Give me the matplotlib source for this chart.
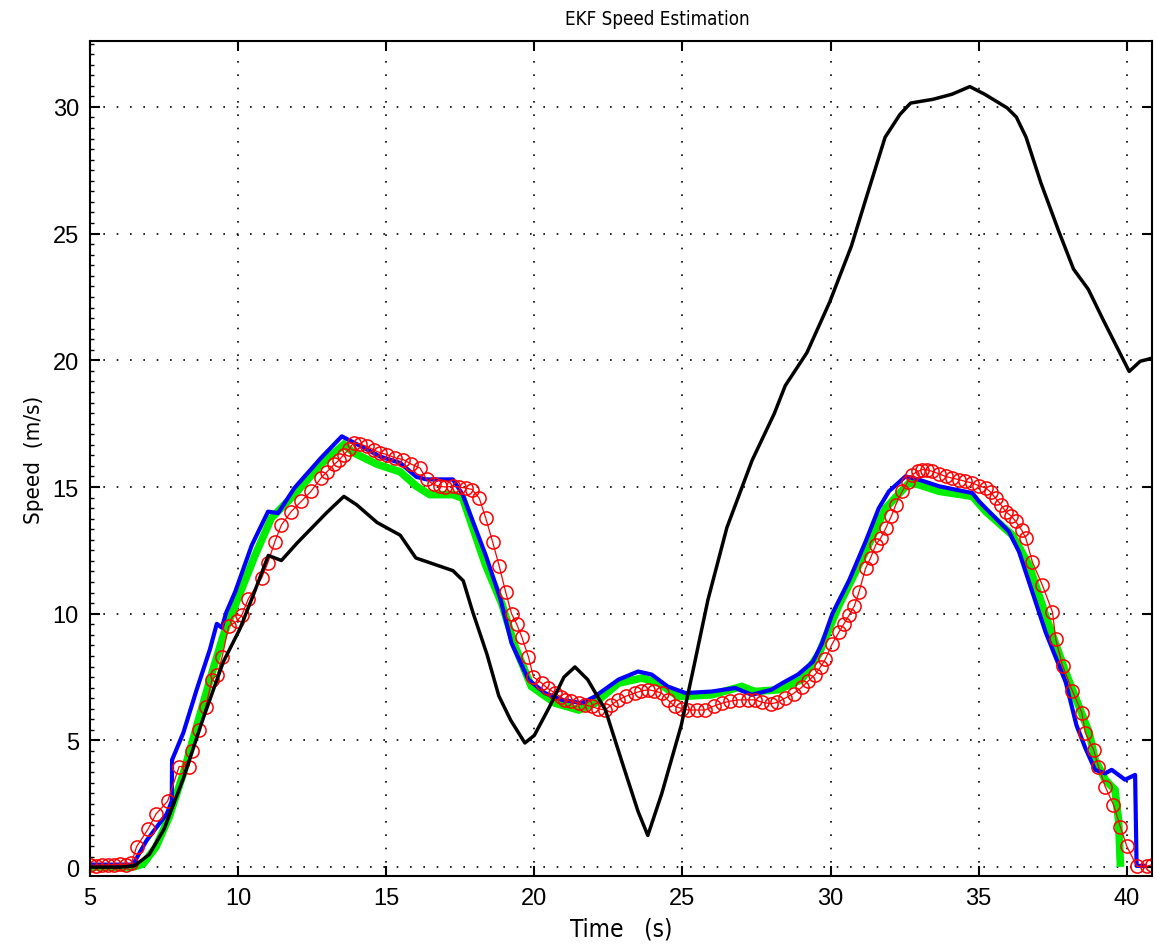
import numpy as np
import matplotlib
matplotlib.use('Agg')
import matplotlib.pyplot as plt
from matplotlib.ticker import MultipleLocator

# reference speed (black)
t_true = [5.0, 6.0, 6.5, 7.0, 7.5, 8.15, 8.8, 9.5, 10.06, 10.5, 11.02, 11.46, 12.0, 12.5,
          13.0, 13.57, 14.0, 14.69, 15.47, 16.0, 16.5, 17.25, 17.6, 17.92, 18.4, 18.8, 19.2,
          19.68, 20.0, 20.5, 21.0, 21.37, 21.8, 22.4, 23.0, 23.5, 23.83, 24.3, 24.96, 25.4,
          25.86, 26.5, 27.35, 28.1, 28.47, 29.2, 29.97, 30.7, 31.2, 31.84, 32.34, 32.7, 33.46,
          34.1, 34.7, 35.2, 35.96, 36.27, 36.6, 37.1, 37.7, 38.2, 38.7, 39.2, 40.08, 40.45, 40.9]
v_true = [0.0, 0.0, 0.05, 0.5, 1.5, 3.5, 5.8, 8.1, 9.4, 10.7, 12.3, 12.1, 12.8, 13.4,
          14.0, 14.63, 14.3, 13.6, 13.1, 12.2, 12.0, 11.7, 11.3, 10.07, 8.4, 6.76, 5.8,
          4.9, 5.2, 6.3, 7.5, 7.9, 7.4, 6.2, 4.0, 2.2, 1.25, 2.9, 5.6, 8.0,
          10.55, 13.4, 16.05, 17.9, 19.0, 20.3, 22.3, 24.5, 26.4, 28.8, 29.7, 30.15, 30.3,
          30.5, 30.8, 30.5, 29.96, 29.6, 28.8, 27.0, 25.1, 23.6, 22.8, 21.6, 19.56, 19.96, 20.1]

# green estimate
t_g = [5.0, 6.45, 6.79, 7.23, 7.68, 8.15, 8.6, 9.05, 9.5, 9.9, 10.57, 11.12, 11.9, 12.8,
       13.57, 13.9, 14.69, 15.47, 16.02, 16.47, 17.25, 17.58, 18.36, 18.9, 19.35, 19.9,
       20.7, 21.5, 22.05, 22.84, 23.63, 24.2, 24.86, 25.99, 27.0, 27.45, 28.24, 29.02,
       29.6, 30.28, 31.18, 31.86, 32.65, 32.98, 33.66, 34.79, 35.24, 36.14, 36.7, 37.26,
       37.94, 38.73, 38.93, 39.27, 39.6, 39.72, 39.78]
v_g = [0.0, 0.0, 0.12, 0.8, 2.0, 3.7, 5.55, 7.4, 9.14, 10.33, 12.3, 13.77, 14.7, 15.9,
       16.68, 16.35, 15.9, 15.6, 15.03, 14.7, 14.7, 14.56, 11.9, 10.4, 8.7, 7.13,
       6.47, 6.2, 6.47, 7.26, 7.46, 7.26, 6.73, 6.8, 7.13, 6.93, 7.0, 7.4,
       8.4, 10.33, 12.45, 14.17, 15.16, 15.09, 14.83, 14.63, 14.03, 13.1, 11.92, 9.93,
       7.68, 5.3, 4.24, 3.45, 3.05, 1.87, 0.16]

# blue estimate
t_b = [5.0, 6.45, 6.91, 7.59, 7.76, 7.77, 8.15, 8.6, 9.05, 9.28, 9.45, 9.6, 9.9, 10.46,
       11.01, 11.35, 11.9, 12.8, 13.5, 14.24, 14.8, 15.47, 16.02, 16.36, 17.25, 17.58,
       18.36, 18.85, 19.23, 19.8, 20.36, 20.92, 21.6, 22.05, 22.84, 23.5, 23.96, 24.5,
       25.1, 25.99, 26.78, 27.34, 28.0, 28.4, 28.9, 29.4, 29.7, 30.06, 30.62, 31.18,
       31.63, 31.97, 32.53, 32.98, 33.66, 34.79, 35.01, 36.02, 36.36, 36.81, 37.26,
       37.94, 38.3, 38.6, 38.93, 39.27, 39.49, 39.94, 40.28, 40.33, 40.6]
v_b = [0.1, 0.1, 1.05, 2.1, 2.6, 4.23, 5.3, 7.0, 8.6, 9.6, 9.45, 10.05, 10.86, 12.7,
       14.03, 13.97, 14.96, 16.15, 17.0, 16.55, 16.2, 15.95, 15.4, 15.3, 15.3, 14.7,
       12.3, 10.6, 8.84, 7.4, 6.87, 6.6, 6.47, 6.74, 7.4, 7.72, 7.6, 7.13,
       6.87, 6.93, 7.07, 6.8, 7.0, 7.28, 7.6, 8.1, 8.8, 10.0, 11.3, 12.84,
       14.17, 14.83, 15.42, 15.29, 15.03, 14.76, 14.43, 13.24, 12.45, 10.86, 9.27,
       7.29, 5.6, 4.7, 3.84, 3.7, 3.84, 3.45, 3.64, 0.05, 0.05]

# red measurements (circles)
t_r = [5.0, 5.2, 5.4, 5.6, 5.8, 6.0, 6.2, 6.4, 6.57, 6.96,
       7.23, 7.62, 8.01, 8.34, 8.45, 8.68, 8.9, 9.12, 9.3, 9.46,
       9.68, 9.95, 10.12, 10.35, 10.79, 11.0, 11.24, 11.46, 11.79, 12.13,
       12.46, 12.8, 13.0, 13.24, 13.4, 13.57, 13.75, 13.9, 14.1, 14.35,
       14.6, 14.8, 15.02, 15.3, 15.58, 15.85, 16.14, 16.36, 16.6, 16.8,
       17.0, 17.25, 17.45, 17.69, 17.9, 18.14, 18.36, 18.59, 18.81, 19.03,
       19.23, 19.4, 19.57, 19.8, 19.97, 20.25, 20.45, 20.7, 20.9, 21.04,
       21.25, 21.5, 21.7, 21.94, 22.15, 22.39, 22.6, 22.84, 23.1, 23.4,
       23.6, 23.85, 24.05, 24.3, 24.5, 24.75, 25.0, 25.2, 25.5, 25.77,
       26.05, 26.33, 26.6, 26.9, 27.2, 27.45, 27.7, 28.0, 28.2, 28.47,
       28.75, 29.03, 29.25, 29.48, 29.66, 29.82, 30.05, 30.28, 30.45, 30.62,
       30.8, 30.96, 31.18, 31.35, 31.52, 31.7, 31.86, 32.05, 32.2, 32.42,
       32.6, 32.76, 32.95, 33.1, 33.25, 33.43, 33.65, 33.88, 34.1, 34.34,
       34.55, 34.79, 35.0, 35.24, 35.4, 35.57, 35.75, 35.91, 36.1, 36.25,
       36.45, 36.59, 36.81, 37.15, 37.49, 37.6, 37.83, 38.16, 38.48, 38.6,
       38.88, 39.04, 39.27, 39.55, 39.78, 40.0, 40.34, 40.67, 40.85]
v_r = [0.1, 0.05, 0.1, 0.08, 0.1, 0.12, 0.1, 0.15, 0.8, 1.5,
       2.1, 2.6, 3.97, 3.97, 4.6, 5.4, 6.3, 7.4, 7.6, 8.3,
       9.5, 9.7, 9.93, 10.6, 11.4, 12.0, 12.84, 13.5, 14.03, 14.43,
       14.83, 15.36, 15.6, 15.89, 16.05, 16.28, 16.5, 16.75, 16.7, 16.6,
       16.45, 16.35, 16.28, 16.15, 16.08, 15.9, 15.75, 15.3, 15.1, 15.03,
       15.0, 15.03, 15.0, 14.96, 14.9, 14.56, 13.77, 12.84, 11.9, 10.86,
       10.0, 9.6, 9.1, 8.3, 7.5, 7.26, 7.05, 6.87, 6.7, 6.6,
       6.55, 6.47, 6.4, 6.34, 6.25, 6.2, 6.4, 6.6, 6.75, 6.87,
       6.95, 7.0, 6.95, 6.87, 6.6, 6.34, 6.25, 6.2, 6.2, 6.2,
       6.35, 6.47, 6.55, 6.6, 6.6, 6.6, 6.5, 6.45, 6.5, 6.67,
       6.85, 7.1, 7.35, 7.6, 7.9, 8.2, 8.8, 9.27, 9.6, 9.93,
       10.3, 10.86, 11.79, 12.2, 12.71, 13.0, 13.37, 13.85, 14.3, 14.83,
       15.2, 15.49, 15.62, 15.69, 15.68, 15.62, 15.52, 15.42, 15.35, 15.29,
       15.22, 15.16, 15.05, 14.96, 14.8, 14.56, 14.3, 14.03, 13.85, 13.64,
       13.3, 12.98, 12.05, 11.12, 10.07, 9.0, 7.95, 6.96, 6.1, 5.3,
       4.63, 3.97, 3.18, 2.46, 1.6, 0.82, 0.03, 0.03, 0.1]

x_ticks = [5, 10, 15, 20, 25, 30, 35, 40]
y_ticks = [0, 5, 10, 15, 20, 25, 30]

label_font = ['DejaVu Sans']
plt.rcParams['font.family'] = ['Liberation Sans', 'DejaVu Sans']

fig = plt.figure(figsize=(11.57, 9.45), dpi=100)
ax = fig.add_axes([90 / 1157, 1 - 877 / 945, 1062 / 1157, 835 / 945])

ax.plot(t_g, v_g, color='#00ee00', lw=5.5, solid_joinstyle='miter')
ax.plot(t_b, v_b, color='#0000ff', lw=3)
ax.plot(t_r, v_r, color='red', lw=0.9, marker='o', ms=9.5, mfc='none', mec='red', mew=1.1)
ax.plot(t_true, v_true, color='black', lw=2.5)

ax.set_xlim(5, 40.85)
ax.set_ylim(-0.35, 32.6)
ax.set_xticks(x_ticks)
ax.set_yticks(y_ticks)
ax.yaxis.set_minor_locator(MultipleLocator(5 / 12))
ax.tick_params(which='major', direction='in', length=7, width=1.5, top=True, right=True,
               labelsize=17, pad=8)
ax.tick_params(which='minor', direction='in', length=3, width=1, left=True, right=False)
ax.grid(True, which='major', color='black', linestyle=(0, (1, 7)), lw=1.2)
for sp in ax.spines.values():
    sp.set_linewidth(1.5)

ax.set_title('EKF Speed Estimation', fontsize=13.5, family=label_font, stretch='condensed',
             x=0.534, pad=12)
ax.set_xlabel('Time   (s)', fontsize=17.5, family=label_font, stretch='condensed', labelpad=5)
ax.set_ylabel('Speed  (m/s)', fontsize=16, family=label_font, stretch='condensed', labelpad=6)

fig.savefig('out.png', dpi=100)
